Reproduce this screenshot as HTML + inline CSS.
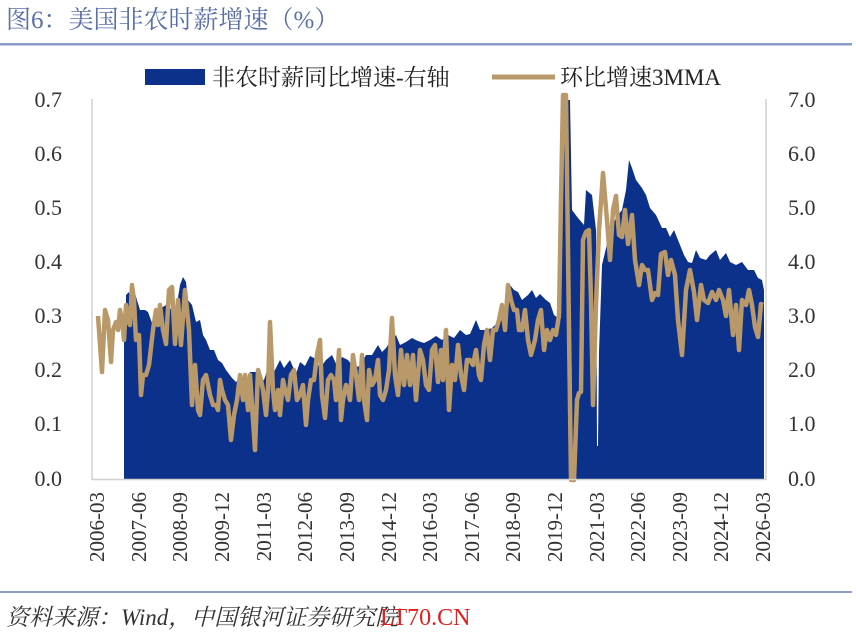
<!DOCTYPE html>
<html><head><meta charset="utf-8"><style>
body{margin:0;background:#fff;width:856px;height:638px;overflow:hidden;font-family:"Liberation Serif","Noto Serif CJK SC",serif}
</style></head><body>
<svg width="856" height="638" viewBox="0 0 856 638" xmlns="http://www.w3.org/2000/svg" font-family="Liberation Serif, Noto Serif CJK SC, serif">
<text x="6" y="28" font-size="25" fill="#5b6fa8">图6：美国非农时薪增速（%）</text>
<rect x="0" y="43" width="852" height="2.5" fill="#8b9cc8"/>
<rect x="0" y="591" width="852" height="2" fill="#8b9cc8"/>
<text x="6" y="625" font-size="23" fill="#333" font-style="italic">资料来源：Wind，中国银河证券研究院</text>
<text x="380" y="625" font-size="24" fill="#e02020">LT70.CN</text>
<rect x="145" y="69" width="60" height="16" fill="#0b318a"/>
<text x="212" y="85" font-size="23" fill="#222">非农时薪同比增速-右轴</text>
<line x1="492" y1="77" x2="555" y2="77" stroke="#b9996a" stroke-width="5"/>
<text x="560" y="85" font-size="23" fill="#222">环比增速3MMA</text>
<g font-size="22" fill="#333" text-anchor="end">
<text x="62" y="107">0.7</text><text x="62" y="161">0.6</text><text x="62" y="215">0.5</text><text x="62" y="269">0.4</text><text x="62" y="323">0.3</text><text x="62" y="377">0.2</text><text x="62" y="431">0.1</text><text x="62" y="486">0.0</text>
</g>
<g font-size="22" fill="#333">
<text x="788" y="107">7.0</text><text x="788" y="161">6.0</text><text x="788" y="215">5.0</text><text x="788" y="269">4.0</text><text x="788" y="323">3.0</text><text x="788" y="377">2.0</text><text x="788" y="431">1.0</text><text x="788" y="486">0.0</text>
</g>
<polygon fill="#0b318a" points="124,479 124,330 126,330 126,295 129,292 131,300 134,290 137,300 140,310 145,310 148,312 152,323 156,322 158,310 166,305 172,310 176,310 180,285 183,277 186,282 188,300 192,305 196,322 200,320 203,335 206,340 210,350 214,350 218,360 222,363 226,370 232,378 236,382 240,378 246,382 250,372 256,372 260,382 264,380 268,368 274,372 280,360 284,368 290,360 296,374 300,362 305,366 310,356 314,358 320,368 326,360 332,355 338,368 342,357 348,360 352,365 356,367 360,366 366,355 372,355 378,345 382,352 386,348 390,342 396,335 400,345 406,342 412,338 418,341 424,343 430,340 436,336 442,340 448,335 454,338 460,330 466,335 470,334 476,320 480,330 486,330 492,328 498,322 502,320 506,320 510,285 514,290 518,292 522,300 528,295 532,290 536,298 540,294 546,300 550,303 554,315 558,318 561,318 562,120 565,100 570,100 572,210 578,218 584,225 586,190 592,195 596,230 597,446 598,446 599,352 602,265 608,240 612,226 616,218 622,210 626,190 629,160 632,168 636,180 642,188 646,195 650,208 656,215 662,228 666,228 670,237 674,230 680,245 684,255 688,262 692,263 696,250 700,258 706,260 710,255 716,250 720,260 726,253 730,262 736,265 742,262 748,270 754,270 758,278 762,280 764,290 764,479"/>
<polyline fill="none" stroke="#b9996a" stroke-width="4.5" stroke-linejoin="round" points="98,316 102,372 105,310 108,320 111,362 113,330 116,322 118,330 120,310 122,320 124,340 126,305 128,320 130,325 132,285 134,300 136,340 139,335 141,395 143,375 146,375 149,365 153,330 156,310 158,325 160,305 163,330 166,344 169,290 172,287 175,344 178,300 181,345 185,290 189,330 192,405 195,365 198,410 200,415 203,380 206,375 210,395 213,405 216,405 218,410 220,380 222,390 225,400 228,405 231,440 234,415 237,400 240,375 243,400 245,375 248,410 250,375 252,405 255,450 258,370 261,380 263,390 266,415 268,390 270,322 273,390 275,410 278,390 280,415 283,380 285,390 288,400 291,375 294,370 297,400 300,395 303,385 306,425 308,400 311,380 314,380 317,355 320,340 322,395 325,418 328,380 331,375 334,380 336,400 339,350 341,420 343,400 346,385 348,390 350,400 353,355 356,375 359,400 362,355 364,400 367,420 369,370 372,385 375,380 378,360 380,395 383,400 386,390 389,370 392,318 395,375 398,395 401,350 404,385 407,355 410,385 413,355 416,400 420,350 423,360 426,385 429,390 432,350 435,345 438,382 441,350 443,380 446,330 449,410 452,365 455,380 458,345 461,375 464,390 467,360 470,360 473,365 476,350 479,375 481,380 484,345 487,330 490,360 493,330 496,330 499,320 502,305 505,330 508,285 511,300 514,310 517,310 519,330 522,330 525,310 528,340 531,355 535,340 538,320 541,310 544,350 547,330 550,340 553,330 556,335 559,315 561,200 563,95 566,95 569,330 571,480 574,480 577,400 579,393 581,392 583,240 586,232 589,230 591,300 593,405 596,305 599,230 603,173 607,220 610,260 613,210 616,196 619,235 622,237 625,210 628,244 632,215 635,260 639,285 642,265 645,270 648,270 652,300 655,293 658,295 661,254 665,252 668,275 671,260 675,275 678,320 682,355 686,290 690,270 694,292 697,320 701,285 704,300 708,303 712,292 716,300 719,290 723,300 726,316 729,290 733,335 736,305 739,350 742,300 746,305 749,290 752,305 755,327 758,337 761,304 763,305"/>
<line x1="92" y1="99" x2="92" y2="480" stroke="#d0d0d0" stroke-width="1.5"/>
<line x1="766" y1="99" x2="766" y2="480" stroke="#d0d0d0" stroke-width="1.5"/>
<line x1="92" y1="479.5" x2="766" y2="479.5" stroke="#d0d0d0" stroke-width="1.5"/>
<g font-size="21" fill="#333" text-anchor="end">
<text transform="translate(104,492) rotate(-90)">2006-03</text>
<text transform="translate(146,492) rotate(-90)">2007-06</text>
<text transform="translate(187,492) rotate(-90)">2008-09</text>
<text transform="translate(229,492) rotate(-90)">2009-12</text>
<text transform="translate(271,492) rotate(-90)">2011-03</text>
<text transform="translate(312,492) rotate(-90)">2012-06</text>
<text transform="translate(354,492) rotate(-90)">2013-09</text>
<text transform="translate(396,492) rotate(-90)">2014-12</text>
<text transform="translate(437,492) rotate(-90)">2016-03</text>
<text transform="translate(479,492) rotate(-90)">2017-06</text>
<text transform="translate(520,492) rotate(-90)">2018-09</text>
<text transform="translate(562,492) rotate(-90)">2019-12</text>
<text transform="translate(604,492) rotate(-90)">2021-03</text>
<text transform="translate(645,492) rotate(-90)">2022-06</text>
<text transform="translate(687,492) rotate(-90)">2023-09</text>
<text transform="translate(728,492) rotate(-90)">2024-12</text>
<text transform="translate(770,492) rotate(-90)">2026-03</text>
</g>
</svg>
</body></html>
